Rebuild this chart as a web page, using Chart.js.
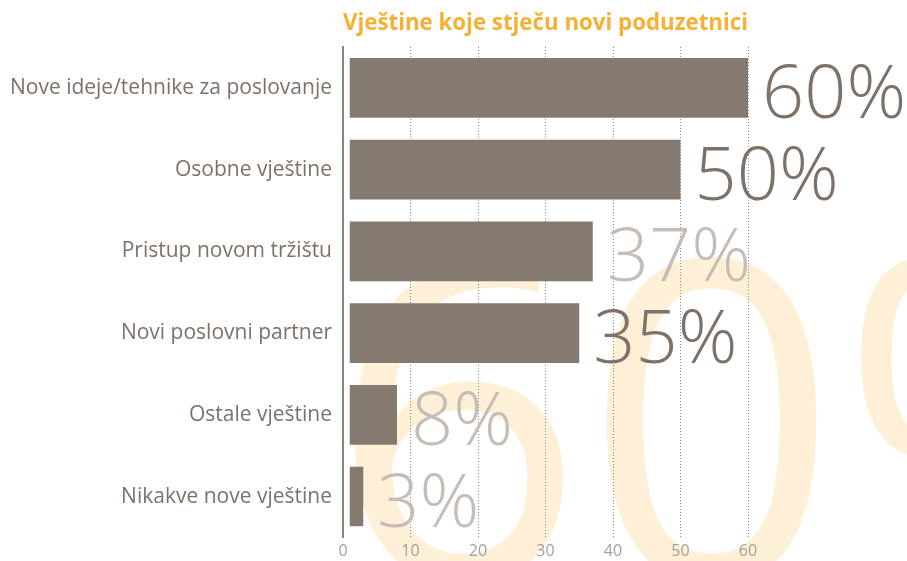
<!DOCTYPE html>
<html>
<head>
<meta charset="utf-8">
<script src="https://cdn.jsdelivr.net/npm/chart.js@4.4.1/dist/chart.umd.min.js"></script>
<style>
  html, body { margin: 0; padding: 0; background: #fff; }
  #wrap { width: 907px; height: 561px; position: relative; }
</style>
</head>
<body>
<div id="wrap"><canvas id="skillsChart"></canvas></div>
<script>
// chart data
const chartTitle = "Vještine koje stječu novi poduzetnici";
const categories = [
  "Nove ideje/tehnike za poslovanje",
  "Osobne vještine",
  "Pristup novom tržištu",
  "Novi poslovni partner",
  "Ostale vještine",
  "Nikakve nove vještine"
];
const shares = [60, 50, 37, 35, 8, 3];
const xTicks = [0, 10, 20, 30, 40, 50, 60];
const watermarkText = "60%";

// styling
const FONT = '"Open Sans", "Noto Sans", sans-serif';
const labelTones = ["#7d7168", "#7d7168", "#c5bdb6", "#7d7168", "#c5bdb6", "#c5bdb6"];

// big pale number behind the plot
const watermark = {
  id: "watermark",
  beforeDraw(chart) {
    const ctx = chart.ctx;
    ctx.save();
    ctx.font = "400 445px " + FONT;
    ctx.fillStyle = "#fef0d6";
    ctx.textBaseline = "alphabetic";
    ctx.fillText(watermarkText, 330, 580);
    ctx.restore();
  }
};

// large percentage labels at the end of each bar
const valueLabels = {
  id: "valueLabels",
  afterDatasetsDraw(chart) {
    const ctx = chart.ctx;
    const meta = chart.getDatasetMeta(0);
    ctx.save();
    ctx.font = "300 74px " + FONT;
    ctx.textBaseline = "alphabetic";
    meta.data.forEach((bar, i) => {
      ctx.fillStyle = labelTones[i];
      ctx.fillText(shares[i] + "%", bar.x + 14, bar.y + 30);
    });
    ctx.restore();
  }
};

new Chart(document.getElementById("skillsChart"), {
  type: "bar",
  data: {
    labels: categories,
    datasets: [{
      data: shares,
      base: 1,
      backgroundColor: "#857a6f",
      borderWidth: 0,
      categoryPercentage: 1,
      barPercentage: 0.73
    }]
  },
  options: {
    indexAxis: "y",
    responsive: true,
    maintainAspectRatio: false,
    animation: false,
    layout: { padding: { top: 0, right: 159, bottom: 0, left: 0 } },
    plugins: {
      legend: { display: false },
      tooltip: { enabled: false },
      title: {
        display: true,
        text: chartTitle,
        color: "#f6b134",
        fullSize: false,
        font: { family: FONT, size: 22.5, weight: "bold" },
        padding: { top: 10, bottom: 10 }
      }
    },
    scales: {
      x: {
        min: xTicks[0],
        max: xTicks[xTicks.length - 1],
        afterBuildTicks: (scale) => { scale.ticks = xTicks.map(v => ({ value: v })); },
        afterFit: (scale) => { scale.height = 22; },
        border: { display: false, dash: [1, 2] },
        grid: {
          drawTicks: false,
          lineWidth: 1,
          color: (c) => (c.tick && c.tick.value === 0) ? "rgba(0,0,0,0)" : "#8c8c8c"
        },
        ticks: {
          padding: 4,
          color: "#a29f9b",
          font: { family: FONT, size: 16 }
        }
      },
      y: {
        afterFit: (scale) => { scale.width = 343; },
        border: { display: true, color: "#8a8580", width: 2 },
        grid: { display: false, drawTicks: false },
        ticks: {
          padding: 11,
          color: "#7d7168",
          font: { family: FONT, size: 21 }
        }
      }
    }
  },
  plugins: [watermark, valueLabels]
});
</script>
</body>
</html>
